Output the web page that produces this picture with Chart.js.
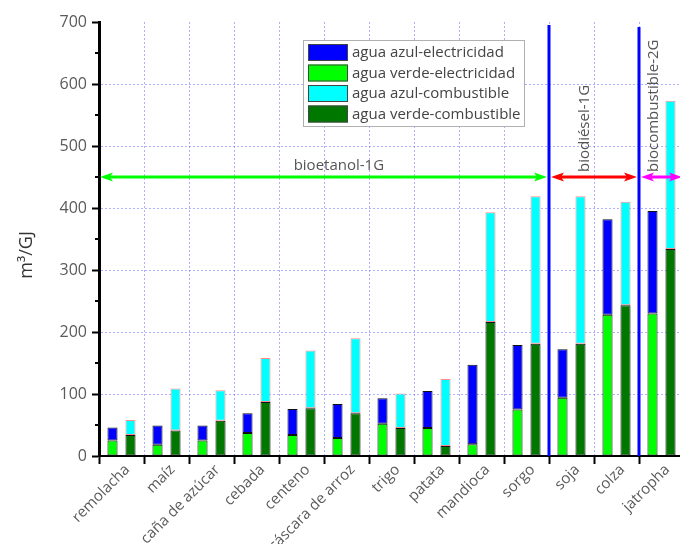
<!DOCTYPE html>
<html>
<head>
<meta charset="utf-8">
<script src="https://cdn.jsdelivr.net/npm/chart.js@4/dist/chart.umd.min.js"></script>
<style>
  html, body { margin: 0; padding: 0; background: #fff; overflow: hidden; width: 680px; height: 544px; }
  #wrap { width: 690px; height: 544px; }
</style>
</head>
<body>
<div id="wrap"><canvas id="c" width="690" height="544"></canvas></div>
<script>
// Huella hídrica por cultivo (m3/GJ)
const categories = ['remolacha', 'maíz', 'caña de azúcar', 'cebada', 'centeno', 'cáscara de arroz',
  'trigo', 'patata', 'mandioca', 'sorgo', 'soja', 'colza', 'jatropha'];

// electricidad: verde abajo, azul encima
const verdeElectricidad = [25, 18, 25, 37, 34, 29, 52, 45, 19, 75, 94, 228, 230];
const azulElectricidad  = [21, 31, 24, 32, 42, 55, 41, 60, 128, 104, 78, 154, 165];
// combustible: verde abajo, azul encima
const verdeCombustible  = [34, 41, 57, 87, 77, 69, 45, 16, 216, 181, 181, 243, 334];
const azulCombustible   = [24, 68, 49, 71, 93, 121, 56, 108, 177, 238, 238, 167, 239];

const yMax = 700;
const yStep = 100;
const yMinorTicks = [50, 150, 250, 350, 450, 550, 650];

// grupos de biocombustible (índices de categoría) y nivel de las flechas
const groupLevel = 450;
const groupNames = ['bioetanol-1G', 'biodiésel-1G', 'biocombustible-2G'];
const groupFirst = [0, 10, 12];
const groupLast = [9, 11, 12];
const groupColors = ['#00ff00', '#ff0000', '#ff00ff'];
const groupLabelAt = [4.83, 10.3, 11.83];
const groupLabelVertical = [false, true, true];
const separatorTops = [695, 692];

const C_AZUL_E = '#0000ff', C_VERDE_E = '#00ff00', C_AZUL_C = '#00ffff', C_VERDE_C = '#007800';

const legendItems = [
  { text: 'agua azul-electricidad', color: C_AZUL_E },
  { text: 'agua verde-electricidad', color: C_VERDE_E },
  { text: 'agua azul-combustible', color: C_AZUL_C },
  { text: 'agua verde-combustible', color: C_VERDE_C },
];

const FONT = '"Open Sans", "DejaVu Sans", sans-serif';

function arrowHead(ctx, x, y, dir, color) {
  ctx.save();
  ctx.fillStyle = color;
  ctx.beginPath();
  ctx.moveTo(x, y);
  ctx.lineTo(x - dir * 13, y - 4.5);
  ctx.lineTo(x - dir * 10, y);
  ctx.lineTo(x - dir * 13, y + 4.5);
  ctx.closePath();
  ctx.fill();
  ctx.restore();
}

const decorations = {
  id: 'decorations',
  afterDatasetsDraw(chart) {
    const { ctx, chartArea, scales: { x, y } } = chart;
    const boundary = (i) => (x.getPixelForValue(i) + x.getPixelForValue(i + 1)) / 2;
    const yArrow = y.getPixelForValue(groupLevel);

    // separadores verticales
    ctx.save();
    ctx.strokeStyle = '#0000ff';
    ctx.lineWidth = 3;
    for (let g = 0; g < groupNames.length - 1; g++) {
      const bx = boundary(groupLast[g]);
      ctx.beginPath();
      ctx.moveTo(bx, y.getPixelForValue(separatorTops[g]));
      ctx.lineTo(bx, y.getPixelForValue(0));
      ctx.stroke();
    }
    ctx.restore();

    // flechas dobles y rótulos de grupo
    for (let g = 0; g < groupNames.length; g++) {
      const x0 = groupFirst[g] === 0 ? chartArea.left + 1 : boundary(groupFirst[g] - 1) + 2;
      const x1 = groupLast[g] === categories.length - 1 ? chartArea.right - 2 : boundary(groupLast[g]) - 2;
      ctx.save();
      ctx.strokeStyle = groupColors[g];
      ctx.lineWidth = 3;
      ctx.beginPath();
      ctx.moveTo(x0 + 6, yArrow);
      ctx.lineTo(x1 - 6, yArrow);
      ctx.stroke();
      ctx.restore();
      arrowHead(ctx, x0, yArrow, -1, groupColors[g]);
      arrowHead(ctx, x1, yArrow, 1, groupColors[g]);

      const lx = x.getPixelForValue(groupLabelAt[g]);
      ctx.save();
      ctx.fillStyle = '#555';
      ctx.font = '15px ' + FONT;
      if (groupLabelVertical[g]) {
        ctx.translate(lx, yArrow - 5);
        ctx.rotate(-Math.PI / 2);
        ctx.textAlign = 'left';
        ctx.textBaseline = 'middle';
        ctx.fillText(groupNames[g], 0, 0);
      } else {
        ctx.textAlign = 'center';
        ctx.textBaseline = 'alphabetic';
        ctx.fillText(groupNames[g], lx, yArrow - 7);
      }
      ctx.restore();
    }

    // marcas menores del eje y
    ctx.save();
    ctx.strokeStyle = '#000';
    ctx.lineWidth = 2;
    for (const v of yMinorTicks) {
      const py = y.getPixelForValue(v);
      ctx.beginPath();
      ctx.moveTo(chartArea.left - 4, py);
      ctx.lineTo(chartArea.left, py);
      ctx.stroke();
    }
    ctx.restore();

    // leyenda
    const bx = 303, by = 40, bw = 221, bh = 86;
    ctx.save();
    ctx.fillStyle = '#fff';
    ctx.fillRect(bx, by, bw, bh);
    ctx.strokeStyle = '#b0b0b0';
    ctx.lineWidth = 1;
    ctx.strokeRect(bx + 0.5, by + 0.5, bw, bh);
    ctx.font = '15px ' + FONT;
    ctx.textBaseline = 'middle';
    ctx.textAlign = 'left';
    legendItems.forEach((it, i) => {
      const ry = by + 4 + i * 20.5;
      ctx.fillStyle = it.color;
      ctx.fillRect(bx + 5, ry, 40, 17);
      ctx.strokeStyle = '#444';
      ctx.strokeRect(bx + 5.5, ry + 0.5, 39, 16);
      ctx.fillStyle = '#444';
      ctx.fillText(it.text, bx + 49, ry + 9);
    });
    ctx.restore();

    // título del eje y
    ctx.save();
    ctx.fillStyle = '#333';
    ctx.font = '18px ' + FONT;
    ctx.translate(27, (chartArea.top + chartArea.bottom) / 2 + 16);
    ctx.rotate(-Math.PI / 2);
    ctx.textAlign = 'center';
    ctx.textBaseline = 'middle';
    ctx.fillText('m³/GJ', 0, 0);
    ctx.restore();
  }
};

const barCommon = {
  borderWidth: 1,
  borderSkipped: false,
  categoryPercentage: 0.8,
  barPercentage: 0.56,
};

new Chart(document.getElementById('c'), {
  type: 'bar',
  data: {
    labels: categories,
    datasets: [
      { ...barCommon, label: 'agua verde-electricidad', data: verdeElectricidad, stack: 'electricidad',
        backgroundColor: C_VERDE_E, borderColor: '#111' },
      { ...barCommon, label: 'agua azul-electricidad', data: azulElectricidad, stack: 'electricidad',
        backgroundColor: C_AZUL_E, borderColor: '#111' },
      { ...barCommon, label: 'agua verde-combustible', data: verdeCombustible, stack: 'combustible',
        backgroundColor: C_VERDE_C, borderColor: '#111' },
      { ...barCommon, label: 'agua azul-combustible', data: azulCombustible, stack: 'combustible',
        backgroundColor: C_AZUL_C, borderColor: '#ff8c8c' },
    ]
  },
  options: {
    responsive: false,
    animation: false,
    devicePixelRatio: 1,
    layout: { padding: { top: 22, right: 6, left: 0, bottom: 0 } },
    plugins: { legend: { display: false }, tooltip: { enabled: false } },
    scales: {
      x: {
        stacked: true,
        offset: true,
        afterFit: (s) => { s.height = 88; },
        grid: {
          offset: true,
          color: 'rgba(110,110,255,0.55)',
          lineWidth: 1,
          drawTicks: true,
          tickLength: 8,
          tickColor: '#000',
          tickWidth: 2,
        },
        border: { display: true, color: '#000', width: 2, dash: [2, 2] },
        ticks: {
          color: '#5a5a5a',
          font: { family: FONT, size: 15 },
          minRotation: 45,
          maxRotation: 45,
          padding: -3,
          labelOffset: 6,
          autoSkip: false,
        }
      },
      y: {
        stacked: true,
        min: 0,
        max: yMax,
        afterFit: (s) => { s.width = 99; },
        grid: {
          color: (c) => (c.tick && (c.tick.value === 0 || c.tick.value === yMax)) ? 'rgba(0,0,0,0)' : 'rgba(110,110,255,0.55)',
          lineWidth: 1,
          drawTicks: true,
          tickLength: 7,
          tickColor: '#000',
          tickWidth: 2,
        },
        border: { display: true, color: '#000', width: 3, dash: [2, 2] },
        ticks: {
          stepSize: yStep,
          color: '#5a5a5a',
          font: { family: FONT, size: 16 },
          padding: 5,
        }
      }
    }
  },
  plugins: [decorations]
});
</script>
</body>
</html>
